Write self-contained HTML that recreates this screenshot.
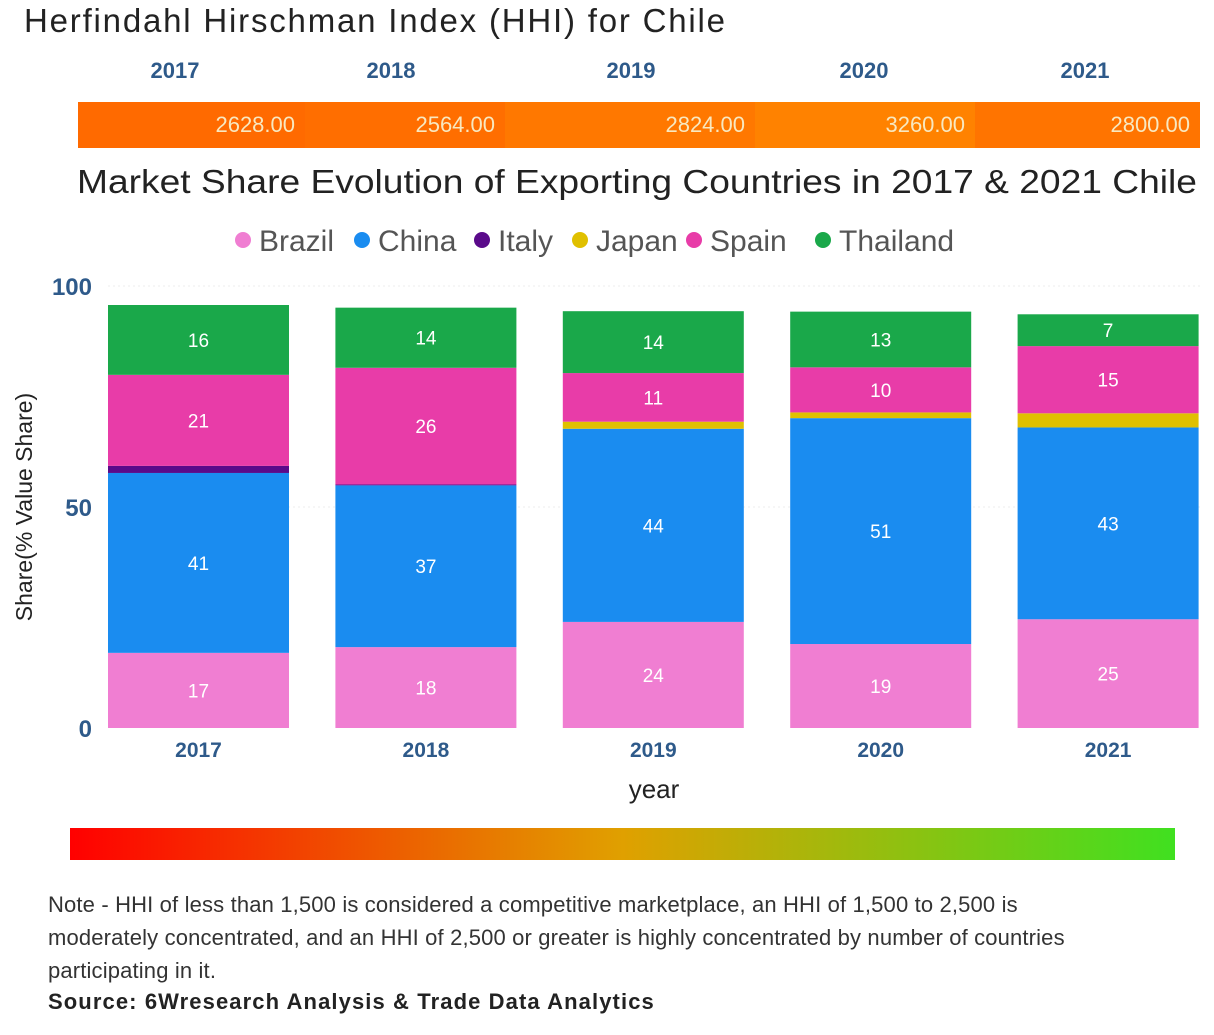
<!DOCTYPE html>
<html><head><meta charset="utf-8"><style>
body{margin:0;width:1214px;height:1035px;background:#fff;font-family:"Liberation Sans",sans-serif;overflow:hidden;position:relative}
.abs{position:absolute}
</style></head><body>
<div class="abs" style="left:24px;top:2px;font-size:33px;letter-spacing:1.8px;color:#222">Herfindahl Hirschman Index (HHI) for Chile</div>
<svg class="abs" style="left:0;top:0" width="1214" height="1035">
<g id="hhi"></g>
<text x="77" y="193" textLength="1120" lengthAdjust="spacingAndGlyphs" font-size="33" fill="#222">Market Share Evolution of Exporting Countries in 2017 &amp; 2021 Chile</text>
<g id="legend"></g>
<g id="axes"></g>
<g id="bars"></g>
<text transform="translate(32,507) rotate(-90)" text-anchor="middle" font-size="23" fill="#222">Share(% Value Share)</text>
<text x="654" y="798" text-anchor="middle" font-size="26" fill="#222">year</text>
<defs><linearGradient id="g" x1="0" x2="1"><stop offset="0" stop-color="#f00"/><stop offset="0.5" stop-color="#e0a000"/><stop offset="1" stop-color="#40e020"/></linearGradient></defs>
<rect x="70" y="828" width="1105" height="32" fill="url(#g)"/>
</svg>
<div class="abs" style="left:48px;top:888px;width:1180px;font-size:22px;line-height:33px;color:#333;letter-spacing:0.15px">Note - HHI of less than 1,500 is considered a competitive marketplace, an HHI of 1,500 to 2,500 is<br>moderately concentrated, and an HHI of 2,500 or greater is highly concentrated by number of countries<br>participating in it.</div>
<div class="abs" style="left:48px;top:989px;font-size:22px;font-weight:bold;color:#222;letter-spacing:1.1px">Source: 6Wresearch Analysis &amp; Trade Data Analytics</div>
<script>
const years=["2017","2018","2019","2020","2021"];
const hhi=[2628,2564,2824,3260,2800];
const series=["Brazil","China","Italy","Japan","Spain","Thailand"];
const colors=["#f07ed2","#1a8cf0","#5a0a8a","#e0c000","#e83ca8","#1aa84a"];
const brazil=[17,18.3,24,19,24.6];
const china=[40.7,36.6,43.7,51.1,43.4];
const italy=[1.6,0.2,0,0,0];
const japan=[0,0,1.6,1.3,3.2];
const spain=[20.6,26.4,11,10.2,15.2];
const thailand=[15.8,13.6,14,12.6,7.2];
const yTicks=[0,50,100];
const vals=[brazil,china,italy,japan,spain,thailand];
const NS="http://www.w3.org/2000/svg";
function mk(t,a,p){const e=document.createElementNS(NS,t);for(const k in a)e.setAttribute(k,a[k]);p.appendChild(e);return e;}
const y=v=>728-v*4.42, x0=108, band=227.4, bw=181;
const hx=[78,305,505,755,975,1200], hcol=["#ff6a00","#ff6e00","#ff7800","#ff8200","#ff7400"];
const hg=document.getElementById('hhi');
hhi.forEach((v,i)=>{
 const r=mk('rect',{x:hx[i],y:102,width:hx[i+1]-hx[i],height:46,fill:hcol[i]},hg);
 
 
 const t=mk('text',{x:hx[i+1]-10,y:132,'text-anchor':'end','font-size':22,fill:'#f8e8c0'},hg);t.textContent=v.toFixed(2);
 
 
 const c=(i==0?175:i==1?391:i==2?631:i==3?864:1085);
 const h=mk('text',{x:c,y:78,'text-anchor':'middle','font-size':22,'font-weight':'bold',fill:'#2e5a8a'},hg);h.textContent=years[i];
 
 
});
const lg=document.getElementById('legend');
const lx=[243,362,482,580,694,823];
series.forEach((s,i)=>{
 const g=mk('g',{},lg);
 
 
 mk('circle',{cx:lx[i],cy:240,r:8,fill:colors[i]},g);
 const t=mk('text',{x:lx[i]+16,y:251,'font-size':30,fill:'#555'},g);t.textContent=s;
});
const ax=document.getElementById('axes');
yTicks.forEach(v=>{
 const t=mk('text',{x:92,y:y(v)+9,'text-anchor':'end','font-size':24,'font-weight':'bold',fill:'#2e5a8a'},ax);t.textContent=v;
 
 
 if(v>0){mk('line',{x1:108,x2:1200,y1:y(v),y2:y(v),stroke:'#eee','stroke-dasharray':'2 3'},ax);}
});
const bg=document.getElementById('bars');
years.forEach((yr,i)=>{
 const bx=x0+i*band;let cum=0;
 vals.forEach((arr,s)=>{
  const v=arr[i];if(v<=0)return;
  const r=mk('rect',{x:bx,y:y(cum+v),width:bw,height:v*4.42,fill:colors[s]},bg);
  
  
  if(v>=5){const t=mk('text',{x:bx+bw/2,y:y(cum+v/2)+7,'text-anchor':'middle','font-size':19,fill:'#fff'},bg);t.textContent=Math.round(v);}
  cum+=v;
 });
 const t=mk('text',{x:bx+bw/2,y:757,'text-anchor':'middle','font-size':21,'font-weight':'bold',fill:'#2e5a8a'},bg);t.textContent=yr;
 
 
});
</script>
</body></html>
